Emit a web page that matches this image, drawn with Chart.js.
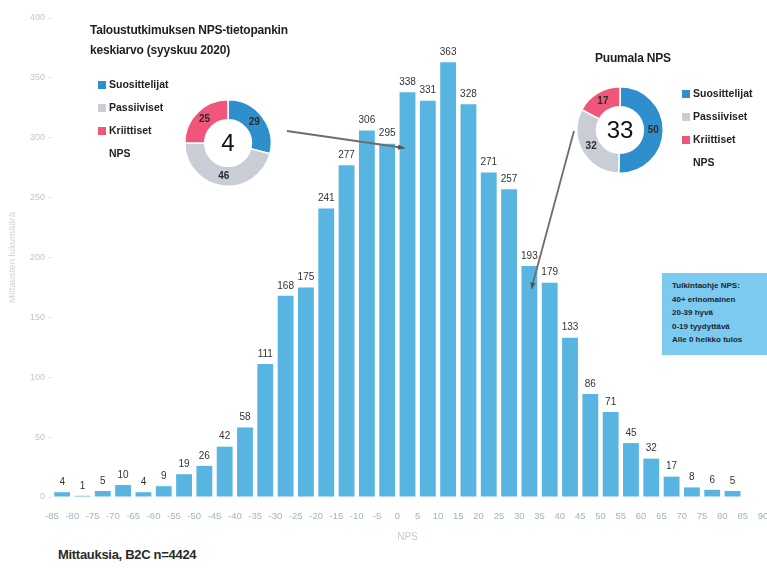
<!DOCTYPE html>
<html lang="fi">
<head>
<meta charset="utf-8">
<title>NPS-jakauma</title>
<script src="https://cdn.jsdelivr.net/npm/chart.js@4.4.1/dist/chart.umd.min.js"></script>
<style>
  html, body { margin: 0; padding: 0; background: #fff; }
  body { width: 767px; height: 568px; position: relative; overflow: hidden;
         font-family: "Liberation Sans Narrow", "Liberation Sans", Arial, sans-serif; }
  .abs { position: absolute; }
  #main-wrap { left: 0; top: 0; width: 767px; height: 545px; }
  .title { font-weight: bold; font-size: 12px; color: #1f1f1f; line-height: 20px; letter-spacing: -0.2px; }
  .legend { font-weight: bold; font-size: 10.5px; color: #222; }
  .legend div { height: 23px; line-height: 10px; white-space: nowrap; }
  .legend span { display: inline-block; width: 8px; height: 8px; margin-right: 3px; vertical-align: -1px; }
  .donut { width: 90px; height: 90px; }
  #guide { left: 662px; top: 273px; width: 105px; height: 82px; background: #7ccaf0;
           font-weight: bold; font-size: 8px; color: #1b2530; line-height: 13.5px;
           padding: 6px 0 0 10px; box-sizing: border-box; }
  #foot { left: 58px; top: 547px; font-size: 13px; font-weight: bold; color: #2a2a2a; letter-spacing: -0.3px; }
</style>
</head>
<body>
<div id="main-wrap" class="abs"><canvas id="bars"></canvas></div>

<div class="abs title" style="left:90px; top:20px;">Taloustutkimuksen NPS-tietopankin<br>keskiarvo (syyskuu 2020)</div>
<div id="legend-left" class="abs legend" style="left:98px; top:79px;"></div>
<div class="abs donut" style="left:183px; top:98px;"><canvas id="donut-left"></canvas></div>

<div class="abs title" style="left:595px; top:48px;">Puumala NPS</div>
<div id="legend-right" class="abs legend" style="left:682px; top:88px;"></div>
<div class="abs donut" style="left:575px; top:85px;"><canvas id="donut-right"></canvas></div>

<div id="guide" class="abs"></div>
<div id="foot" class="abs">Mittauksia, B2C n=4424</div>

<script>
'use strict';

/* ---- Data: histogram of NPS measurements ---- */
// lower edge of each 5-point NPS bin
const binStarts = [-85, -80, -75, -70, -65, -60, -55, -50, -45, -40, -35, -30,
                   -25, -20, -15, -10, -5, 0, 5, 10, 15, 20, 25, 30,
                   35, 40, 45, 50, 55, 60, 65, 70, 75, 80];
const binCounts = [4, 1, 5, 10, 4, 9, 19, 26, 42, 58, 111, 168,
                   175, 241, 277, 306, 295, 338, 331, 363, 328, 271, 257, 193,
                   179, 133, 86, 71, 45, 32, 17, 8, 6, 5];
const BIN_WIDTH = 5;

const xTickMin = -85, xTickMax = 90;
const yTickMax = 400, yTickStep = 50;

/* ---- Donuts ---- */
const donutLabels   = ['Suosittelijat', 'Passiiviset', 'Kriittiset'];
const benchmarkVals = [29, 46, 25];   // Taloustutkimus average
const benchmarkNps  = 4;
const puumalaVals   = [50, 32, 17];
const puumalaNps    = 33;

const guideLines = ['Tulkintaohje NPS:', '40+ erinomainen', '20-39 hyvä', '0-19 tyydyttävä', 'Alle 0 heikko tulos'];

/* ---- Colours ---- */
const BAR_COLOR   = '#58b5e1';
const DONUT_COLORS = ['#2e8fcc', '#c9ced6', '#ef5679'];
const FONT = '"Liberation Sans Narrow", "Liberation Sans", Arial, sans-serif';

/* ============================================================
   Legends + guide box
   ============================================================ */
function buildLegend(id) {
  const html = donutLabels.map((l, i) =>
    `<div><span style="background:${DONUT_COLORS[i]}"></span>${l}</div>`).join('');
  document.getElementById(id).innerHTML = html + '<div style="padding-left:11px">NPS</div>';
}
buildLegend('legend-left');
buildLegend('legend-right');
document.getElementById('guide').innerHTML = guideLines.join('<br>');

/* ============================================================
   Plugins
   ============================================================ */
const barValueLabels = {
  id: 'barValueLabels',
  afterDatasetsDraw(chart) {
    const { ctx } = chart;
    const meta = chart.getDatasetMeta(0);
    ctx.save();
    ctx.font = `10px ${FONT}`;
    ctx.fillStyle = '#333';
    ctx.textAlign = 'center';
    ctx.textBaseline = 'bottom';
    meta.data.forEach((bar, i) => {
      ctx.fillText(String(binCounts[i]), bar.x, bar.y - 5);
    });
    ctx.restore();
  }
};

// grey pointer lines from each donut to the bin holding its NPS
const npsPointers = {
  id: 'npsPointers',
  afterDraw(chart) {
    const { ctx } = chart;
    const xs = chart.scales.x;
    const binCenter = v => Math.floor(v / BIN_WIDTH) * BIN_WIDTH + BIN_WIDTH / 2;
    const lines = [
      { from: [287, 131], to: [xs.getPixelForValue(binCenter(benchmarkNps)) - 3, 148] },
      { from: [574, 131], to: [xs.getPixelForValue(binCenter(puumalaNps)) + 2, 289] },
    ];
    ctx.save();
    ctx.strokeStyle = '#6d6d6d';
    ctx.fillStyle = '#555';
    ctx.lineWidth = 1.8;
    for (const { from, to } of lines) {
      ctx.beginPath();
      ctx.moveTo(from[0], from[1]);
      ctx.lineTo(to[0], to[1]);
      ctx.stroke();
      const a = Math.atan2(to[1] - from[1], to[0] - from[0]);
      ctx.beginPath();
      ctx.moveTo(to[0], to[1]);
      ctx.lineTo(to[0] - 7 * Math.cos(a - 0.4), to[1] - 7 * Math.sin(a - 0.4));
      ctx.lineTo(to[0] - 7 * Math.cos(a + 0.4), to[1] - 7 * Math.sin(a + 0.4));
      ctx.closePath();
      ctx.fill();
    }
    ctx.restore();
  }
};

const donutText = {
  id: 'donutText',
  afterDatasetsDraw(chart, args, opts) {
    const { ctx, chartArea } = chart;
    const meta = chart.getDatasetMeta(0);
    const vals = chart.data.datasets[0].data;
    ctx.save();
    ctx.textAlign = 'center';
    ctx.textBaseline = 'middle';
    ctx.font = `bold 10px ${FONT}`;
    ctx.fillStyle = '#2b2b2b';
    meta.data.forEach((arc, i) => {
      const p = arc.tooltipPosition();
      ctx.fillText(String(vals[i]), p.x, p.y);
    });
    ctx.font = `24px "Liberation Sans", Arial, sans-serif`;
    ctx.fillStyle = '#111';
    ctx.fillText(String(opts.nps), (chartArea.left + chartArea.right) / 2, (chartArea.top + chartArea.bottom) / 2 + 1);
    ctx.restore();
  }
};

/* ============================================================
   Main histogram
   ============================================================ */
new Chart(document.getElementById('bars'), {
  type: 'bar',
  data: {
    datasets: [{
      data: binStarts.map((s, i) => ({ x: s + BIN_WIDTH / 2, y: binCounts[i] })),
      backgroundColor: BAR_COLOR,
      barPercentage: 0.78,
      categoryPercentage: 1,
    }],
  },
  options: {
    responsive: true,
    maintainAspectRatio: false,
    animation: false,
    layout: { padding: { top: 18, right: 4, left: 0, bottom: 0 } },
    plugins: { legend: { display: false }, tooltip: { enabled: false } },
    scales: {
      x: {
        type: 'linear',
        offset: false,
        min: xTickMin,
        max: xTickMax,
        grid: { display: false, offset: false },
        border: { display: false },
        ticks: { stepSize: 5, color: '#9db6c7', font: { size: 9.5, family: FONT }, maxRotation: 0, autoSkip: false, padding: 6 },
        title: { display: true, text: 'NPS', color: '#c3ccd3', font: { size: 10, family: FONT }, padding: { top: 4, bottom: 2 } },
        afterFit(s) { s.paddingLeft = 0; s.paddingRight = 0; s.height = 48; },
      },
      y: {
        min: 0,
        max: yTickMax,
        grid: { drawOnChartArea: false, tickLength: 4, color: '#e6e6e6' },
        border: { display: false },
        ticks: { stepSize: yTickStep, color: '#c6c6c6', font: { size: 9, family: FONT }, padding: 3 },
        title: { display: true, text: 'Mittausten lukumäärä', color: '#cdd3d8', font: { size: 9.5, family: FONT }, padding: { top: 7, bottom: 0 } },
        afterFit(s) { s.width = 52; },
      },
    },
  },
  plugins: [barValueLabels, npsPointers],
});

/* ============================================================
   Donuts
   ============================================================ */
function makeDonut(id, values, nps) {
  return new Chart(document.getElementById(id), {
    type: 'doughnut',
    data: {
      labels: donutLabels,
      datasets: [{ data: values, backgroundColor: DONUT_COLORS, borderColor: '#fff', borderWidth: 1.5 }],
    },
    options: {
      responsive: true,
      maintainAspectRatio: false,
      animation: false,
      cutout: '54%',
      layout: { padding: 1 },
      plugins: { legend: { display: false }, tooltip: { enabled: false }, donutText: { nps } },
    },
    plugins: [donutText],
  });
}

makeDonut('donut-left', benchmarkVals, benchmarkNps);
makeDonut('donut-right', puumalaVals, puumalaNps);
</script>
</body>
</html>
